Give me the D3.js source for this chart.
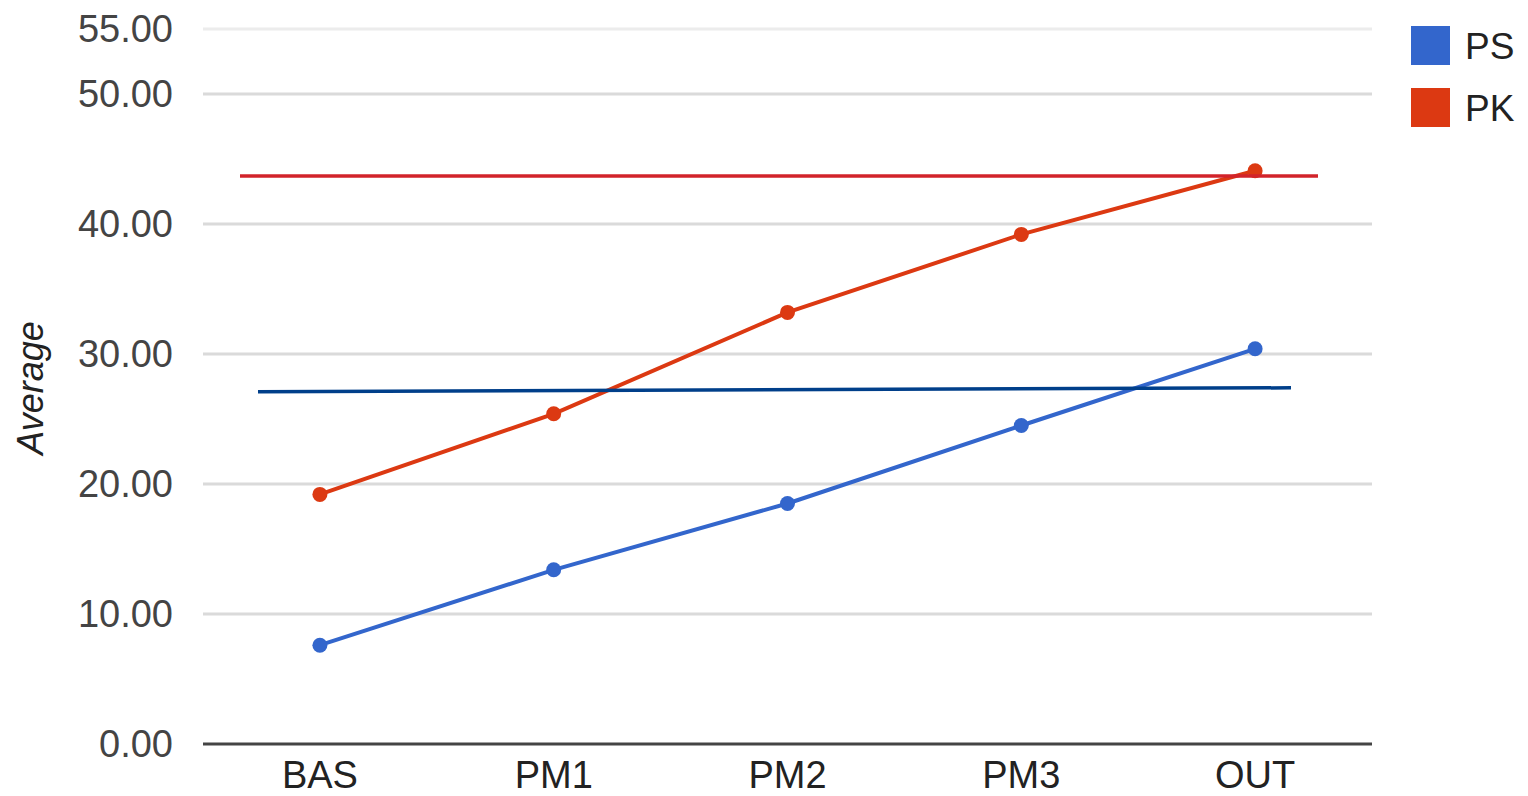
<!DOCTYPE html>
<html>
    <head>
        <title>Average</title>
        <meta charset="utf-8">
        <script src="https://d3js.org/d3.v7.min.js"></script>
        <style>
            body { margin: 0; background: #fff; }
            text { font-family: "Liberation Sans", Arial, sans-serif; }
        </style>
    </head>
    <body>
        <svg height="796" width="1528"></svg>
        <script type="text/javascript">
            var categories = ["BAS", "PM1", "PM2", "PM3", "OUT"];
            var psValues = [7.6, 13.4, 18.5, 24.5, 30.4];
            var pkValues = [19.2, 25.4, 33.2, 39.2, 44.1];
            var yTicks = [0, 10, 20, 30, 40, 50, 55];
            // flat reference lines drawn over the chart
            var pkRef = [43.7, 43.7];
            var psRef = [27.1, 27.4];

            var colors = { "PS": "#3366cc", "PK": "#dc3912" };

            var svg = d3.select("svg");
            var plotLeft = 203, plotRight = 1372, plotTop = 29, plotBottom = 744;

            var x = d3.scaleBand().domain(categories).range([plotLeft, plotRight]);
            var y = d3.scaleLinear().domain([0, 55]).range([plotBottom, plotTop]);

            // gridlines
            svg.selectAll(".grid")
            .data(yTicks.filter(function(d) { return d > 0; }))
            .enter()
            .append("line")
            .attr("x1", plotLeft).attr("x2", plotRight)
            .attr("y1", function(d) { return y(d); })
            .attr("y2", function(d) { return y(d); })
            .attr("stroke", function(d) { return d == 55 ? "#ececec" : "#dadada"; })
            .attr("stroke-width", 3);

            // y labels
            svg.selectAll(".ylab")
            .data(yTicks)
            .enter()
            .append("text")
            .text(function(d) { return d.toFixed(2); })
            .attr("x", 173)
            .attr("y", function(d) { return y(d) + 13; })
            .attr("text-anchor", "end")
            .attr("fill", "#444")
            .style("font-size", "38px");

            // baseline
            svg.append("line")
            .attr("x1", plotLeft).attr("x2", plotRight)
            .attr("y1", y(0)).attr("y2", y(0))
            .attr("stroke", "#444").attr("stroke-width", 3);

            // x labels
            svg.selectAll(".xlab")
            .data(categories)
            .enter()
            .append("text")
            .text(function(d) { return d; })
            .attr("x", function(d) { return x(d) + x.bandwidth() / 2; })
            .attr("y", 788)
            .attr("text-anchor", "middle")
            .attr("fill", "#222")
            .style("font-size", "38px");

            svg.append("text")
            .text("Average")
            .attr("transform", "translate(43,388) rotate(-90)")
            .attr("text-anchor", "middle")
            .attr("fill", "#222")
            .style("font-size", "36px")
            .style("font-style", "italic");

            var line = d3.line()
            .x(function(d, i) { return x(categories[i]) + x.bandwidth() / 2; })
            .y(function(d) { return y(d); });

            var series = [["PS", psValues], ["PK", pkValues]];
            series.forEach(function(s) {
                svg.append("path")
                .attr("d", line(s[1]))
                .attr("fill", "none")
                .attr("stroke", colors[s[0]])
                .attr("stroke-width", 4);

                svg.selectAll(".pt" + s[0])
                .data(s[1])
                .enter()
                .append("circle")
                .attr("cx", function(d, i) { return x(categories[i]) + x.bandwidth() / 2; })
                .attr("cy", function(d) { return y(d); })
                .attr("r", 7.5)
                .attr("fill", colors[s[0]]);
            });

            // reference lines
            svg.append("line")
            .attr("x1", 240).attr("x2", 1318)
            .attr("y1", y(pkRef[0])).attr("y2", y(pkRef[1]))
            .attr("stroke", "#d2232a").attr("stroke-width", 3.5);
            svg.append("line")
            .attr("x1", 258).attr("x2", 1291)
            .attr("y1", y(psRef[0])).attr("y2", y(psRef[1]))
            .attr("stroke", "#003f8a").attr("stroke-width", 3.5);

            // legend
            var legend = svg.selectAll(".legend")
            .data(series)
            .enter()
            .append("g")
            .attr("transform", function(d, i) { return "translate(1411," + (26 + i * 62) + ")"; });
            legend.append("rect")
            .attr("width", 39).attr("height", 39)
            .attr("fill", function(d) { return colors[d[0]]; });
            legend.append("text")
            .text(function(d) { return d[0]; })
            .attr("x", 54).attr("y", 33)
            .attr("fill", "#222")
            .style("font-size", "37px");
        </script>
    </body>
</html>
